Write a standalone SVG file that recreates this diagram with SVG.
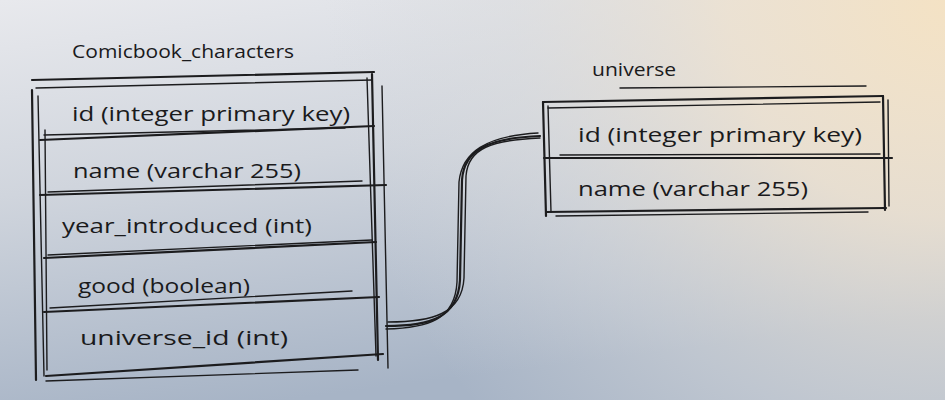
<svg xmlns="http://www.w3.org/2000/svg" width="945" height="400" viewBox="0 0 945 400">
  <defs>
    <linearGradient id="bg" x1="0" y1="0" x2="0.3" y2="1">
      <stop offset="0" stop-color="#e8e9ed"/>
      <stop offset="0.45" stop-color="#d0d5dd"/>
      <stop offset="1" stop-color="#a7b4c6"/>
    </linearGradient>
    <radialGradient id="warm" cx="945" cy="0" r="620" gradientUnits="userSpaceOnUse">
      <stop offset="0" stop-color="#f4e2c4" stop-opacity="1"/>
      <stop offset="0.35" stop-color="#eee2d0" stop-opacity="0.85"/>
      <stop offset="0.7" stop-color="#dcdcdc" stop-opacity="0.45"/>
      <stop offset="1" stop-color="#d6d8dc" stop-opacity="0"/>
    </radialGradient>
    <style>
      .ln { fill: none; stroke: #1c1c1e; stroke-width: 2.2; stroke-linecap: round; stroke-linejoin: round; }
      .thin { fill: none; stroke: #1c1c1e; stroke-width: 1.4; stroke-linecap: round; }
      .txt { font-family: "Open Sans", "Liberation Sans", sans-serif; font-size: 20px; fill: #1a1a1c; }
      .ttl { font-family: "Open Sans", "Liberation Sans", sans-serif; font-size: 19px; fill: #1a1a1c; }
    </style>
  </defs>

  <rect x="0" y="0" width="945" height="400" fill="url(#bg)"/>
  <rect x="0" y="0" width="945" height="400" fill="url(#warm)"/>

  <g id="comicbook_characters">
    <text class="ttl" x="72" y="58" textLength="222" lengthAdjust="spacingAndGlyphs">Comicbook_characters</text>
    <!-- outline -->
    <path class="ln" d="M32,80 L374,72"/>
    <path class="thin" d="M36,88 L372,80"/>
    <path class="ln" d="M32,90 L36,380"/>
    <path class="thin" d="M38,96 L44,376"/>
    <path class="thin" d="M45,130 L47,370"/>
    <path class="ln" d="M372,74 L378,360"/>
    <path class="thin" d="M367,78 L376,356"/>
    <path class="thin" d="M382,86 L388,368"/>
    <path class="ln" d="M46,376 L383,354"/>
    <path class="thin" d="M46,381 L358,370"/>
    <!-- row dividers -->
    <path class="ln" d="M40,140 L374,126"/>
    <path class="thin" d="M44,135 L345,128"/>
    <path class="ln" d="M40,195 L386,185"/>
    <path class="thin" d="M48,192 L362,181"/>
    <path class="ln" d="M44,258 L376,242"/>
    <path class="thin" d="M48,255 L372,240"/>
    <path class="ln" d="M44,312 L379,297"/>
    <path class="thin" d="M50,308 L352,291"/>
    <!-- texts -->
    <text class="txt" x="72" y="121" textLength="278" lengthAdjust="spacingAndGlyphs">id (integer primary key)</text>
    <text class="txt" x="73" y="178" textLength="228" lengthAdjust="spacingAndGlyphs">name (varchar 255)</text>
    <text class="txt" x="62" y="233" textLength="250" lengthAdjust="spacingAndGlyphs">year_introduced (int)</text>
    <text class="txt" x="78" y="293" textLength="172" lengthAdjust="spacingAndGlyphs">good (boolean)</text>
    <text class="txt" x="80" y="345" textLength="208" lengthAdjust="spacingAndGlyphs">universe_id (int)</text>
  </g>

  <g id="universe">
    <text class="ttl" x="592" y="76" textLength="84" lengthAdjust="spacingAndGlyphs">universe</text>
    <path class="thin" d="M620,88 L866,86"/>
    <path class="ln" d="M543,102 L883,96"/>
    <path class="thin" d="M548,108 L880,102"/>
    <path class="ln" d="M543,102 L546,216"/>
    <path class="thin" d="M548,106 L551,212"/>
    <path class="ln" d="M883,96 L885,210"/>
    <path class="thin" d="M888,100 L889,206"/>
    <path class="ln" d="M544,158 L892,158"/>
    <path class="thin" d="M560,155 L880,154"/>
    <path class="ln" d="M546,212 L886,208"/>
    <path class="thin" d="M556,216 L868,212"/>
    <text class="txt" x="578" y="142" textLength="284" lengthAdjust="spacingAndGlyphs">id (integer primary key)</text>
    <text class="txt" x="578" y="196" textLength="230" lengthAdjust="spacingAndGlyphs">name (varchar 255)</text>
  </g>

  <g id="connectors">
    <path class="ln" d="M386,326 C430,326 458,318 460,280 L462,180 C464,150 488,138 540,136"/>
    <path class="thin" d="M388,322 C432,322 462,314 464,278 L466,176 C468,148 492,140 540,138"/>
    <path class="thin" d="M386,329 C428,328 455,320 457,282 L459,182 C462,152 486,136 538,133"/>
  </g>
</svg>
